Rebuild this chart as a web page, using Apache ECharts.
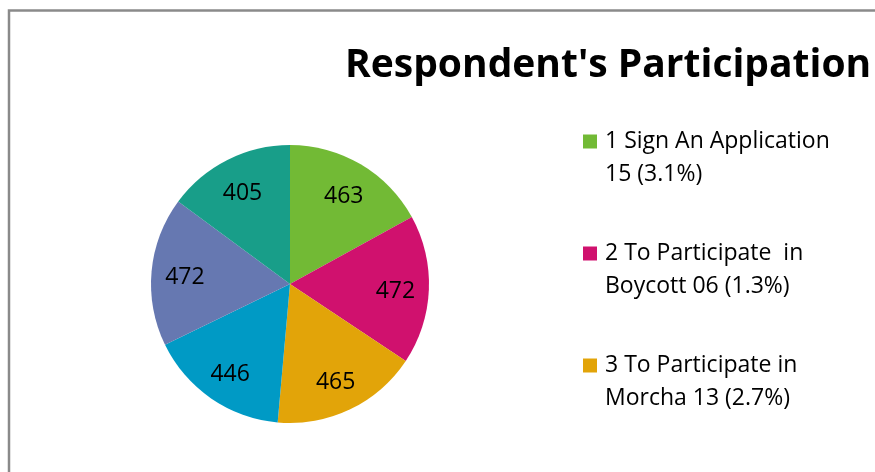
<!DOCTYPE html>
<html>
<head>
<meta charset="utf-8">
<style>
  html, body { margin: 0; padding: 0; background: #fff; }
  #chart { width: 875px; height: 472px; }
</style>
<script src="https://cdn.jsdelivr.net/npm/echarts@6/dist/echarts.min.js"></script>
</head>
<body>
<div id="chart"></div>
<script>
// Participation categories (legend text, wrapped as in the legend box)
const categories = [
  '1 Sign An Application\n15 (3.1%)',
  '2 To Participate  in\nBoycott 06 (1.3%)',
  '3 To Participate in\nMorcha 13 (2.7%)',
  '4',
  '5',
  '6'
];
// Slice values
const values = [463, 472, 465, 446, 472, 405];
// Slice colours
const colors = ['#72BA35', '#D0116E', '#E2A409', '#009AC5', '#6678B1', '#189E89'];
// Entries listed in the legend
const legendEntries = categories.slice(0, 3);

const FONT = '"Open Sans"';
const pieData = categories.map((name, i) => ({ name: name, value: values[i] }));

const chart = echarts.init(document.getElementById('chart'), null, { renderer: 'canvas' });
chart.setOption({
  animation: false,
  backgroundColor: '#fff',
  color: colors,
  title: {
    text: "Respondent's Participation",
    left: 345,
    top: 46,
    padding: 0,
    textStyle: { fontFamily: FONT, fontWeight: 'bold', fontSize: 39, color: '#000' }
  },
  legend: {
    orient: 'vertical',
    left: 583,
    top: 92,
    padding: 0,
    itemWidth: 14,
    itemHeight: 14,
    itemGap: 13,
    icon: 'rect',
    data: legendEntries,
    // a blank first line keeps the swatch level with the first text line
    formatter: name => '\n' + name,
    textStyle: {
      fontFamily: FONT,
      fontSize: 23,
      lineHeight: 33,
      color: '#000',
      padding: [0, 0, 0, 3]
    }
  },
  graphic: [{
    type: 'rect',
    shape: { x: 9, y: 10.5, width: 1000, height: 600 },
    style: { fill: 'none', stroke: '#8a8a8a', lineWidth: 2.5 },
    silent: true,
    z: 100
  }],
  series: [
    {
      type: 'pie',
      center: [290, 284],
      radius: [0, 139],
      startAngle: 90,
      clockwise: true,
      silent: true,
      label: { show: false },
      labelLine: { show: false },
      itemStyle: { borderWidth: 0 },
      data: pieData
    },
    {
      // value labels, placed on a ring so they sit in the outer part of each slice
      type: 'pie',
      center: [290, 284],
      radius: [66, 139],
      startAngle: 90,
      clockwise: true,
      silent: true,
      itemStyle: { color: 'rgba(0,0,0,0)', borderWidth: 0 },
      label: {
        show: true,
        position: 'inside',
        formatter: '{c}',
        fontFamily: FONT,
        fontSize: 23,
        offset: [0, 3.5],
        color: '#000'
      },
      labelLine: { show: false },
      data: pieData
    }
  ]
});
</script>
</body>
</html>
